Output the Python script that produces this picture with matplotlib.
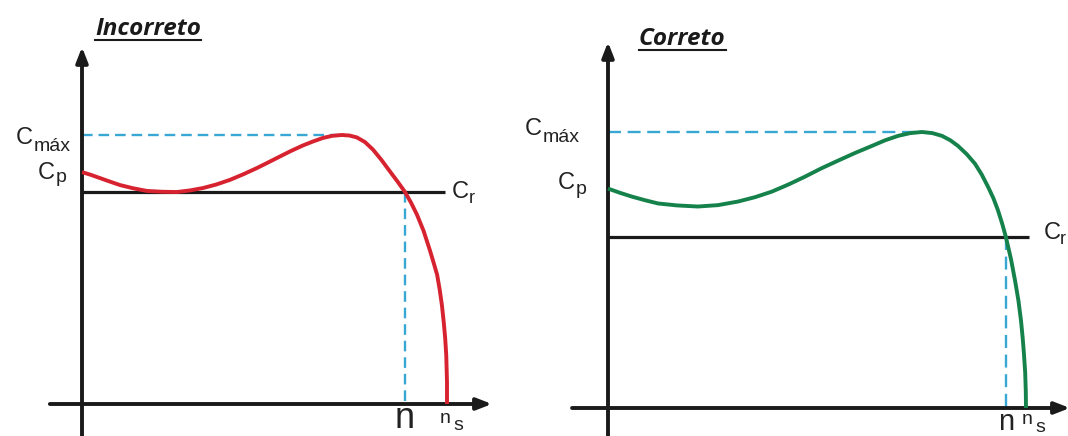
import matplotlib.pyplot as plt
from matplotlib.lines import Line2D

# --- data (speed in % of ns, torque in % of Cmax) ---
titles = ['Incorreto', 'Correto']
curve_colors = ['#d7222f', '#16824b']

left_speed = [0, 2.4, 4.9, 7.6, 10.4, 14.0, 17.8, 22.0, 26.0, 29.6, 33.2, 36.8, 40.5,
              44.2, 47.9, 51.0, 54.2, 57.3, 60.5, 63.3, 66.0, 68.6, 71.2, 73.3, 75.3,
              77.5, 79.7, 82.0, 84.4, 86.5, 88.5, 90.2, 91.8, 93.6, 95.3, 96.3, 97.3,
              98.0, 98.6, 99.1, 99.5, 99.8, 100, 100]
left_torque = [86.2, 85.2, 84.0, 82.7, 81.4, 80.2, 79.2, 78.9, 78.8, 79.4, 80.3, 81.6, 83.3,
               85.4, 87.7, 89.8, 92.0, 94.1, 96.1, 97.6, 98.9, 99.7, 100, 99.8, 99.1,
               97.4, 94.6, 90.8, 86.4, 82.6, 78.8, 74.7, 70.3, 64.3, 57.2, 52.7, 48.0,
               42.5, 36.8, 30.5, 24.5, 18.0, 8.0, 0]

right_speed = [0, 2.8, 5.7, 8.8, 12.0, 16.5, 21.5, 26.3, 31.1, 35.2, 39.2, 43.2, 47.1,
               51.0, 55.0, 59.1, 63.2, 66.3, 69.4, 72.3, 75.1, 77.6, 79.9, 81.9, 83.7,
               85.8, 87.8, 89.4, 90.9, 92.2, 93.3, 94.3, 95.2, 96.4, 97.4, 98.2, 98.8,
               99.2, 99.5, 99.8, 99.95, 100]
right_torque = [79.5, 78.0, 76.6, 75.3, 74.1, 73.4, 73.0, 73.5, 74.8, 76.4, 78.4, 81.0, 83.8,
                86.8, 89.6, 92.4, 95.0, 97.0, 98.6, 99.6, 100, 99.6, 98.6, 97.0, 95.0,
                92.0, 88.5, 84.6, 80.2, 76.0, 71.6, 66.8, 61.9, 54.0, 46.0, 38.8, 31.7,
                25.5, 19.8, 13.0, 6.0, 0]

cmax_level = [100, 100]
cmax_speed = [71.2, 75.1]
cp_level = [86.2, 79.5]
cr_level = [78.8, 61.9]
n_speed = [88.5, 95.2]
ns_speed = [100, 100]

# --- layout (pixel origin of each diagram, px per unit) ---
W, H = 1068, 436
panels = [
    dict(x0=0, x1=520, ox=82, oy=404, sx=3.65, sy=2.69, ytop=132.7, xa=(-8.8, 112.3),
         cr_end=99.5, dash=(4.5, 2.5), n_size=26,
         cmax_off=(-49, 9, 16), cp_off=(-27, 7, 10), cr_off=(7, 6, 24, 11), ns_off=(-7, 19, 6, 26)),
    dict(x0=520, x1=1068, ox=608, oy=408, sx=4.18, sy=2.76, ytop=132.6, xa=(-8.6, 110.5),
         cr_end=100.7, dash=(5.5, 2.8), n_size=21,
         cmax_off=(-66, 3, 10), cp_off=(-33, 0, 5), cr_off=(15, 2, 31, 7), ns_off=(-4, 16, 9, 24)),
]
speeds = [left_speed, right_speed]
torques = [left_torque, right_torque]

plt.rcParams['font.family'] = ['Liberation Sans', 'DejaVu Sans']
fig = plt.figure(figsize=(W / 100, H / 100), dpi=100, facecolor='white')

PX = 72 / 100  # points per pixel
blue = '#39a7d3'
ink = '#1a1a1a'
arrow = dict(arrowstyle='-|>,head_length=0.9,head_width=0.35', lw=2.8, color=ink,
             shrinkA=0, shrinkB=0, mutation_scale=10)

title_texts = []
for i, p in enumerate(panels):
    ax = fig.add_axes([p['x0'] / W, 0, (p['x1'] - p['x0']) / W, 1])
    ax.set_xlim((p['x0'] - p['ox']) / p['sx'], (p['x1'] - p['ox']) / p['sx'])
    ax.set_ylim((p['oy'] - H) / p['sy'], p['oy'] / p['sy'])
    ax.axis('off')
    ybot = (p['oy'] - H) / p['sy']

    # axes with arrows
    ax.annotate('', xy=(0, p['ytop']), xytext=(0, ybot), arrowprops=arrow,
                annotation_clip=False)
    ax.annotate('', xy=(p['xa'][1], 0), xytext=(p['xa'][0], 0), arrowprops=arrow,
                annotation_clip=False)

    # load torque line
    ax.plot([0, p['cr_end']], [cr_level[i], cr_level[i]], color=ink, lw=2.3,
            solid_capstyle='butt')

    # dashed guides
    ax.plot([0, cmax_speed[i]], [cmax_level[i], cmax_level[i]], color=blue, lw=1.7,
            dashes=p['dash'])
    ax.plot([n_speed[i], n_speed[i]], [cr_level[i], 0], color=blue, lw=1.7,
            dashes=p['dash'])

    # torque curve
    ax.plot(speeds[i], torques[i], color=curve_colors[i], lw=2.8,
            solid_capstyle='butt', solid_joinstyle='round', zorder=3)

    def lab(s, x, y, dx, dy, size, ha='right', va='baseline'):
        ax.annotate(s, xy=(x, y), xytext=(dx * PX, -dy * PX), textcoords='offset points',
                    ha=ha, va=va, fontsize=size, color='#222222', annotation_clip=False)

    dx, dyc, dys = p['cmax_off']
    lab('C', 0, cmax_level[i], dx, dyc, 17)
    lab('máx', 0, cmax_level[i], dx + 1, dys, 14, ha='left')
    dx, dyc, dys = p['cp_off']
    lab('C', 0, cp_level[i], dx, dyc, 17)
    lab('p', 0, cp_level[i], dx + 1, dys, 14, ha='left')
    dxc, dyc, dxs, dys = p['cr_off']
    lab('C', p['cr_end'], cr_level[i], dxc, dyc, 17, ha='left')
    lab('r', p['cr_end'], cr_level[i], dxs, dys, 13, ha='left')
    # n sits on the lower edge of the figure
    lab('n', n_speed[i], 0, 0, H - p['oy'], p['n_size'], ha='center', va='bottom')
    dxn, dyn, dxs, dys = p['ns_off']
    lab('n', ns_speed[i], 0, dxn, dyn, 14, ha='left')
    lab('s', ns_speed[i], 0, dxs, dys, 14, ha='left')

# titles (bold italic, underlined)
title_pos = [(95, 35), (639, 45)]
for t, (x, y) in zip(titles, title_pos):
    txt = fig.text(x / W, 1 - y / H, t, fontsize=17.5, fontweight='bold', fontstyle='italic',
                   family=['Open Sans', 'DejaVu Sans'], color=ink, ha='left', va='baseline')
    title_texts.append((txt, y))

fig.canvas.draw()
for txt, y in title_texts:
    bb = txt.get_window_extent()
    yl = (H - y - 5) / H
    fig.add_artist(Line2D([bb.x0 / W, bb.x1 / W], [yl, yl], color=ink, lw=1.5,
                          transform=fig.transFigure))

fig.savefig('out.png', dpi=100, facecolor='white')
